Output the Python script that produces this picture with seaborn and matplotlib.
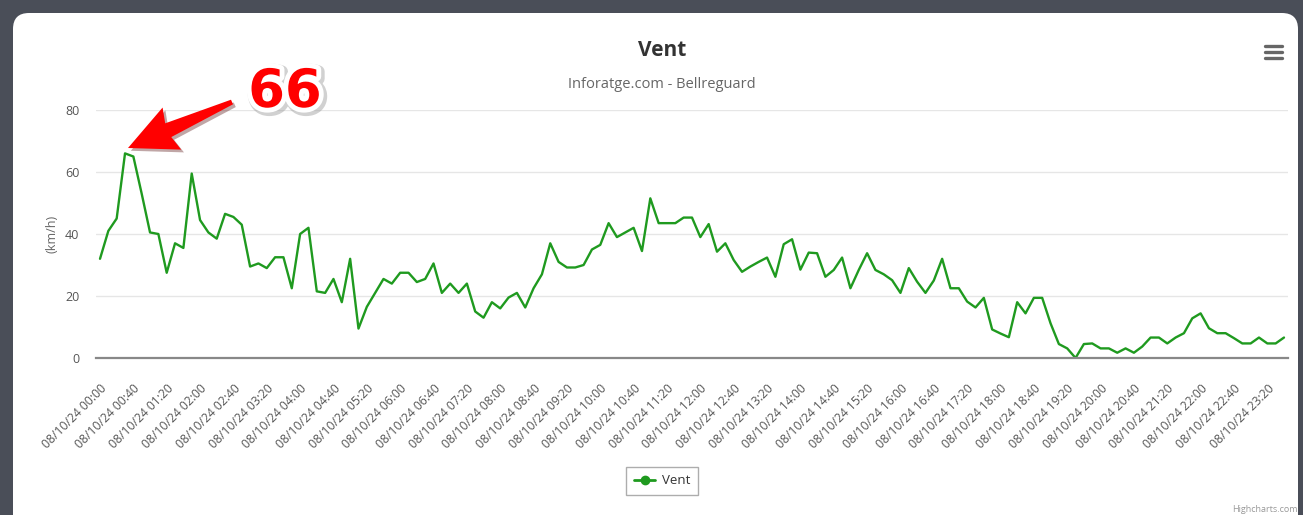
import matplotlib
matplotlib.use("Agg")
import matplotlib.pyplot as plt
import matplotlib.patheffects as pe
import matplotlib.transforms as mtransforms
from matplotlib.patches import FancyBboxPatch, Polygon
from matplotlib.lines import Line2D
import numpy as np
import pandas as pd
import seaborn as sns

# Wind speed (km/h), one reading every 10 minutes, 08/10/24 00:00 -> 23:40
vent = [
    32, 41, 45, 66, 65, 53, 40.5, 40, 27.5, 37,
    35.5, 59.5, 44.5, 40.5, 38.5, 46.5, 45.5, 43, 29.5, 30.5,
    29, 32.5, 32.5, 22.5, 40, 42, 21.5, 21, 25.5, 18,
    32, 9.5, 16.5, 21, 25.5, 24, 27.5, 27.5, 24.5, 25.5,
    30.5, 21, 24, 21, 24, 15, 13, 18, 16, 19.5,
    21, 16.3, 22.5, 27, 37, 31, 29.2, 29.2, 30, 35,
    36.5, 43.5, 39, 40.5, 42, 34.5, 51.5, 43.5, 43.5, 43.5,
    45.3, 45.3, 39, 43.2, 34.3, 37, 31.6, 27.8, 29.5, 31,
    32.4, 26.2, 36.7, 38.3, 28.5, 34, 33.8, 26.2, 28.4, 32.4,
    22.5, 28.4, 33.8, 28.4, 27, 25.1, 21, 29, 24.6, 21,
    25, 32, 22.5, 22.5, 18.2, 16.3, 19.4, 9.2, 7.9, 6.7,
    18, 14.4, 19.4, 19.4, 11.2, 4.5, 3.1, 0, 4.5, 4.7,
    3.1, 3.1, 1.7, 3.1, 1.7, 3.7, 6.6, 6.6, 4.7, 6.6,
    8, 12.8, 14.4, 9.6, 8, 8, 6.4, 4.7, 4.7, 6.6,
    4.7, 4.7, 6.6,
]
times = pd.date_range("2024-10-08 00:00", periods=len(vent), freq="10min")
time_labels = [t.strftime("%d/%m/%y %H:%M") for t in times]
tick_step = 4
y_ticks = [0, 20, 40, 60, 80]
peak_label = "66"

df = pd.DataFrame({"idx": np.arange(len(vent)), "Vent": vent, "time": time_labels})

W, H = 1303, 515
sns.set_style("white")
plt.rcParams["font.family"] = ["Open Sans", "DejaVu Sans"]

fig = plt.figure(figsize=(W / 100, H / 100), dpi=100)
fig.patch.set_facecolor("#4a4e58")
px = mtransforms.IdentityTransform()

# white card
card = FancyBboxPatch((13, -30), 1285, H - 13 + 30,
                      boxstyle="round,pad=0,rounding_size=16",
                      transform=px, facecolor="white", edgecolor="none", zorder=0)
fig.add_artist(card)

ax = fig.add_axes([96 / W, 1 - 358 / H, (1288 - 96) / W, (358 - 110) / H])
ax.set_facecolor("none")

sns.lineplot(data=df, x="idx", y="Vent", ax=ax, color="#1f9a1f", linewidth=1.7,
             legend=False, solid_joinstyle="round", solid_capstyle="round")

ax.set_xlim(-0.48, len(vent) - 1 + 0.48)
ax.set_ylim(0, 80)
ax.set_yticks(y_ticks)
ax.set_yticklabels([str(v) for v in y_ticks], fontsize=9, color="#555555")
ax.grid(axis="y", color="#e6e6e6", linewidth=1)
ax.set_axisbelow(True)
for s in ["top", "right", "left"]:
    ax.spines[s].set_visible(False)
ax.spines["bottom"].set_color("#888888")
ax.spines["bottom"].set_linewidth(1.6)

xt = df["idx"].iloc[::tick_step]
ax.set_xticks(xt)
ax.set_xticklabels(df["time"].iloc[::tick_step], rotation=45, ha="right",
                   rotation_mode="anchor", fontsize=8.7, color="#555555")
ax.tick_params(axis="x", length=0, pad=17)
ax.tick_params(axis="y", length=0, pad=12)
ax.set_xlabel("")
ax.set_ylabel("(km/h)", fontsize=9, color="#666666", labelpad=5)

# title / subtitle
fig.text(662 / W, 1 - 51 / H, "Vent", ha="center", va="center",
         fontsize=15, fontweight="bold", color="#333333")
fig.text(662 / W, 1 - 84 / H, "Inforatge.com - Bellreguard", ha="center", va="center",
         fontsize=10.5, color="#666666")

# legend
handle = Line2D([], [], color="#1f9a1f", linewidth=2, marker="o", markersize=6)
leg = fig.legend([handle], ["Vent"], loc="center", bbox_to_anchor=(662 / W, 1 - 481 / H),
                 fancybox=False, edgecolor="#999999", fontsize=9.5, handlelength=1.6,
                 borderpad=0.6, handletextpad=0.5, labelcolor="#333333")
leg.get_frame().set_linewidth(1)

# hamburger menu
for yy in (46, 52, 58):
    fig.add_artist(Line2D([1265 / W, 1282 / W], [1 - yy / H, 1 - yy / H],
                          color="#666666", linewidth=2.4, transform=fig.transFigure))

fig.text(1298 / W, 1 - 509 / H, "Highcharts.com", ha="right", va="center",
         fontsize=6.5, color="#999999")

# red annotation arrow pointing at the peak (tapered shaft, big head)
tip = np.array([128.0, H - 148.0])
tail = np.array([232.0, H - 102.0])
u = (tip - tail) / np.linalg.norm(tip - tail)
n = np.array([-u[1], u[0]])
base = tip - 44 * u
arrow_pts = [tail + 2.5 * n, base + 7.5 * n, base + 23 * n - 4 * u, tip,
             base - 23 * n - 4 * u, base - 7.5 * n, tail - 2.5 * n]
arrow = Polygon(arrow_pts, closed=True, transform=px, facecolor="#ff0000",
                edgecolor="none", zorder=10,
                path_effects=[pe.SimplePatchShadow(offset=(2, -2), alpha=0.35),
                              pe.Normal()])
fig.add_artist(arrow)

fig.text(285 / W, 1 - 92 / H, peak_label, ha="center", va="center",
         fontsize=38, fontweight="bold", color="#ff0000", family="DejaVu Sans", zorder=11,
         path_effects=[pe.Stroke(linewidth=9, foreground="#999999", alpha=0.45, offset=(1.5, -1.5)),
                       pe.Stroke(linewidth=7, foreground="white"),
                       pe.Normal()])

fig.savefig("out.png", dpi=100, facecolor=fig.get_facecolor())
